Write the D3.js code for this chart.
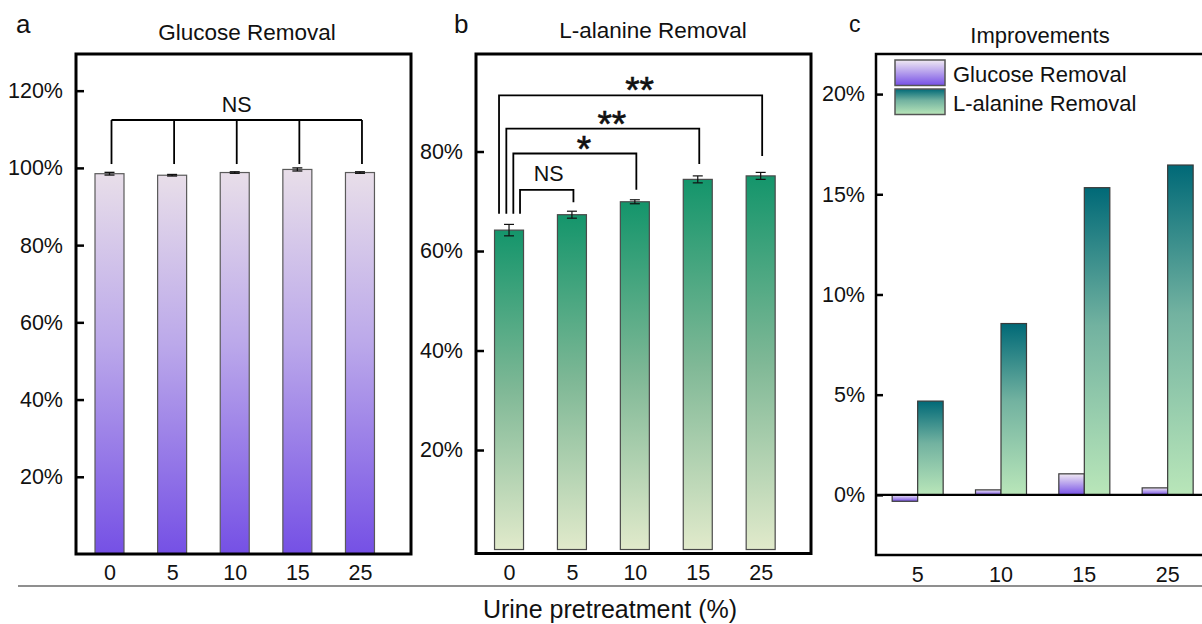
<!DOCTYPE html>
<html>
<head>
<meta charset="utf-8">
<script src="https://cdn.jsdelivr.net/npm/d3@7"></script>
<style>
  html, body { margin: 0; padding: 0; background: #fff; }
  svg { display: block; font-family: "Liberation Sans", Arial, Helvetica, sans-serif; }
</style>
</head>
<body>
<svg id="chart" width="1202" height="624"></svg>
<script>
// ---- data ----
const pretreatment = ["0", "5", "10", "15", "25"];

const glucoseRemoval = [98.5, 98.1, 98.8, 99.6, 98.8];
const glucoseError   = [0.35, 0.2, 0.2, 0.4, 0.2];

const alanineRemoval = [64.2, 67.3, 69.9, 74.4, 75.1];
const alanineError   = [1.15, 0.7, 0.4, 0.7, 0.7];

const improveCategories = ["5", "10", "15", "25"];
const glucoseImprove = [-0.32, 0.25, 1.05, 0.35];
const alanineImprove = [4.68, 8.55, 15.33, 16.46];

const ticksA = [20, 40, 60, 80, 100, 120];
const ticksB = [20, 40, 60, 80];
const ticksC = [0, 5, 10, 15, 20];

// significance brackets (levels in %)
const bracketsA = [{ idx: [0, 1, 2, 3, 4], level: 112.4, end: 101, label: "NS" }];
const bracketsB = [
  { from: 0, to: 1, level: 72.3, end: 69.8, start: 67.5, label: "NS" },
  { from: 0, to: 2, level: 79.6, end: 72.3, start: 67.5, label: "*" },
  { from: 0, to: 3, level: 84.6, end: 77.5, start: 67.5, label: "**" },
  { from: 0, to: 4, level: 91.3, end: 79.1, start: 67.5, label: "**" }
];

// ---- setup ----
const svg = d3.select("#chart");
const FONT = 21.5;
const defs = svg.append("defs");

function vGrad(id, stops) {
  const g = defs.append("linearGradient").attr("id", id)
    .attr("x1", 0).attr("y1", 0).attr("x2", 0).attr("y2", 1);
  stops.forEach(([o, c]) => g.append("stop").attr("offset", o).attr("stop-color", c));
}
vGrad("gradGlucose", [[0, "#e8dee9"], [0.45, "#bba8ea"], [1, "#7550e5"]]);
vGrad("gradAlanine", [[0, "#14956b"], [0.5, "#7fb896"], [1, "#e1eacb"]]);
vGrad("gradGlucoseC", [[0, "#f0e9f3"], [1, "#7650e6"]]);
vGrad("gradAlanineC", [[0, "#006977"], [0.45, "#72b2a0"], [1, "#b9e6b9"]]);

function styleYAxis(g) {
  g.select(".domain").remove();
  g.selectAll(".tick line").attr("stroke", "#000").attr("stroke-width", 2.5);
  g.selectAll(".tick text").attr("font-size", FONT).attr("fill", "#111")
    .attr("font-family", "Liberation Sans, Arial, sans-serif");
}
function styleXAxis(g) {
  g.select(".domain").remove();
  g.selectAll(".tick line").remove();
  g.selectAll(".tick text").attr("font-size", FONT).attr("fill", "#111")
    .attr("font-family", "Liberation Sans, Arial, sans-serif");
}
function pct(d) { return d + "%"; }

// ---- panel a: glucose removal ----
{
  const x = d3.scaleLinear().domain([-0.535, 4.815]).range([76, 411]);
  const y = d3.scaleLinear().domain([0, 129.5]).range([554, 54]);
  const g = svg.append("g");
  const bw = 29;

  g.selectAll("rect.bar").data(glucoseRemoval).join("rect")
    .attr("class", "bar")
    .attr("x", (d, i) => x(i) - bw / 2).attr("width", bw)
    .attr("y", d => y(d)).attr("height", d => y(0) - y(d))
    .attr("fill", "url(#gradGlucose)").attr("stroke", "#5a5a5a").attr("stroke-width", 1.2);

  const eg = g.append("g");
  glucoseRemoval.forEach((d, i) => {
    const e = glucoseError[i], cx = x(i);
    eg.append("line").attr("x1", cx).attr("x2", cx).attr("y1", y(d + e)).attr("y2", y(d - e));
    eg.append("line").attr("x1", cx - 5).attr("x2", cx + 5).attr("y1", y(d + e)).attr("y2", y(d + e));
    eg.append("line").attr("x1", cx - 5).attr("x2", cx + 5).attr("y1", y(d - e)).attr("y2", y(d - e));
  });
  eg.selectAll("line").attr("stroke", "#111").attr("stroke-width", 1.3);

  const bg = g.append("g");
  bracketsA.forEach(b => {
    const xs = b.idx.map(i => x(i) + 2);
    bg.append("line").attr("x1", xs[0]).attr("x2", xs[xs.length - 1])
      .attr("y1", y(b.level)).attr("y2", y(b.level));
    xs.forEach(px => bg.append("line").attr("x1", px).attr("x2", px)
      .attr("y1", y(b.level)).attr("y2", y(b.end)));
    g.append("text").attr("x", (xs[0] + xs[xs.length - 1]) / 2).attr("y", y(b.level) - 8.5)
      .attr("text-anchor", "middle").attr("font-size", 21.5).attr("fill", "#111").text(b.label);
  });
  bg.selectAll("line").attr("stroke", "#000").attr("stroke-width", 1.8);

  g.append("g").attr("transform", "translate(76,0)")
    .call(d3.axisLeft(y).tickValues(ticksA).tickFormat(pct).tickSize(-8).tickPadding(13))
    .call(styleYAxis);
  g.append("g").attr("transform", "translate(0,554)")
    .call(d3.axisBottom(x).tickValues(d3.range(5)).tickFormat(i => pretreatment[i]).tickSize(0).tickPadding(11))
    .call(styleXAxis);

  g.append("rect").attr("x", 76).attr("y", 54).attr("width", 335).attr("height", 500)
    .attr("fill", "none").attr("stroke", "#000").attr("stroke-width", 3);
  g.append("text").attr("x", 247).attr("y", 39.5).attr("text-anchor", "middle")
    .attr("font-size", 22.5).attr("fill", "#111").text("Glucose Removal");
  g.append("text").attr("x", 16).attr("y", 33).attr("font-size", 26).attr("fill", "#111").text("a");
}

// ---- panel b: L-alanine removal ----
{
  const x = d3.scaleLinear().domain([-0.525, 4.80]).range([476, 811]);
  const y = d3.scaleLinear().domain([-0.8, 99.6]).range([553.5, 54]);
  const g = svg.append("g");
  const bw = 29;

  g.selectAll("rect.bar").data(alanineRemoval).join("rect")
    .attr("class", "bar")
    .attr("x", (d, i) => x(i) - bw / 2).attr("width", bw)
    .attr("y", d => y(d)).attr("height", d => y(0) - y(d))
    .attr("fill", "url(#gradAlanine)").attr("stroke", "#4a4a4a").attr("stroke-width", 1.2);

  const eg = g.append("g");
  alanineRemoval.forEach((d, i) => {
    const e = alanineError[i], cx = x(i);
    eg.append("line").attr("x1", cx).attr("x2", cx).attr("y1", y(d + e)).attr("y2", y(d - e));
    eg.append("line").attr("x1", cx - 5).attr("x2", cx + 5).attr("y1", y(d + e)).attr("y2", y(d + e));
    eg.append("line").attr("x1", cx - 5).attr("x2", cx + 5).attr("y1", y(d - e)).attr("y2", y(d - e));
  });
  eg.selectAll("line").attr("stroke", "#111").attr("stroke-width", 1.2);

  // left legs of the brackets fan out around the first bar
  const leftOffsets = [11, 4.3, -2.7, -10];
  const bg = g.append("g");
  bracketsB.forEach((b, k) => {
    const xl = x(b.from) + leftOffsets[k], xr = x(b.to) + 1.5;
    bg.append("path").attr("d",
      `M${xl},${y(b.start)}V${y(b.level)}H${xr}V${y(b.end)}`);
    const isStar = b.label !== "NS";
    g.append("text").attr("x", (xl + xr) / 2 + (isStar ? 9 : 2))
      .attr("y", isStar ? y(b.level) + 8 : y(b.level) - 9)
      .attr("text-anchor", "middle")
      .attr("font-size", isStar ? 37 : 21.5)
      .attr("stroke", isStar ? "#111" : "none").attr("stroke-width", isStar ? 0.6 : 0)
      .attr("fill", "#111").text(b.label);
  });
  bg.selectAll("path").attr("fill", "none").attr("stroke", "#000").attr("stroke-width", 1.8);

  g.append("g").attr("transform", "translate(476,0)")
    .call(d3.axisLeft(y).tickValues(ticksB).tickFormat(pct).tickSize(-8).tickPadding(13))
    .call(styleYAxis);
  g.append("g").attr("transform", "translate(0,554)")
    .call(d3.axisBottom(x).tickValues(d3.range(5)).tickFormat(i => pretreatment[i]).tickSize(0).tickPadding(11))
    .call(styleXAxis);

  g.append("rect").attr("x", 476).attr("y", 54).attr("width", 335).attr("height", 499.5)
    .attr("fill", "none").attr("stroke", "#000").attr("stroke-width", 3);
  g.append("text").attr("x", 653).attr("y", 37.5).attr("text-anchor", "middle")
    .attr("font-size", 22.5).attr("fill", "#111").text("L-alanine Removal");
  g.append("text").attr("x", 454).attr("y", 33).attr("font-size", 26).attr("fill", "#111").text("b");
}

// ---- panel c: improvements ----
{
  const x0 = d3.scaleBand().domain(improveCategories).range([876, 876 + 4 * 83.33]).padding(0);
  const x1 = d3.scaleBand().domain(["glucose", "alanine"]).range([-25.5, 25.5]);
  const y = d3.scaleLinear().domain([-3, 22]).range([555, 54]);
  const g = svg.append("g");
  const center = c => x0(c) + x0.bandwidth() / 2;

  const series = [
    { key: "glucose", values: glucoseImprove, fill: "url(#gradGlucoseC)" },
    { key: "alanine", values: alanineImprove, fill: "url(#gradAlanineC)" }
  ];
  series.forEach(s => {
    g.selectAll(null).data(s.values).join("rect")
      .attr("x", (d, i) => center(improveCategories[i]) + x1(s.key))
      .attr("width", x1.bandwidth())
      .attr("y", d => y(Math.max(0, d)))
      .attr("height", d => Math.abs(y(d) - y(0)))
      .attr("fill", s.fill).attr("stroke", "#3a3a3a").attr("stroke-width", 1.2);
  });

  g.append("line").attr("x1", 876).attr("x2", 1210).attr("y1", y(0)).attr("y2", y(0))
    .attr("stroke", "#000").attr("stroke-width", 2.2);

  g.append("g").attr("transform", "translate(876,0)")
    .call(d3.axisLeft(y).tickValues(ticksC).tickFormat(pct).tickSize(-7).tickPadding(11))
    .call(styleYAxis);
  g.append("g").attr("transform", "translate(0,555)")
    .call(d3.axisBottom(x0).tickSize(0).tickPadding(12))
    .call(styleXAxis);

  g.append("rect").attr("x", 876).attr("y", 54).attr("width", 340).attr("height", 501)
    .attr("fill", "none").attr("stroke", "#000").attr("stroke-width", 2.5);

  // legend
  const legend = [
    { label: "Glucose Removal", fill: "url(#gradGlucoseC)" },
    { label: "L-alanine Removal", fill: "url(#gradAlanineC)" }
  ];
  const lg = g.append("g").attr("transform", "translate(895,60)");
  legend.forEach((l, i) => {
    lg.append("rect").attr("x", 0).attr("y", i * 29).attr("width", 50).attr("height", 25.5)
      .attr("fill", l.fill).attr("stroke", "#555").attr("stroke-width", 1.5);
    lg.append("text").attr("x", 58).attr("y", i * 29 + 21.5).attr("font-size", 22)
      .attr("fill", "#111").text(l.label);
  });

  g.append("text").attr("x", 1040).attr("y", 43).attr("text-anchor", "middle")
    .attr("font-size", 22).attr("fill", "#111").text("Improvements");
  g.append("text").attr("x", 849).attr("y", 32).attr("font-size", 23).attr("fill", "#111").text("c");
}

// ---- shared x title ----
svg.append("line").attr("x1", 18).attr("x2", 1202).attr("y1", 586).attr("y2", 586)
  .attr("stroke", "#6a6a6a").attr("stroke-width", 1.5);
svg.append("text").attr("x", 610).attr("y", 618).attr("text-anchor", "middle")
  .attr("font-size", 25).attr("fill", "#111").text("Urine pretreatment (%)");
</script>
</body>
</html>
